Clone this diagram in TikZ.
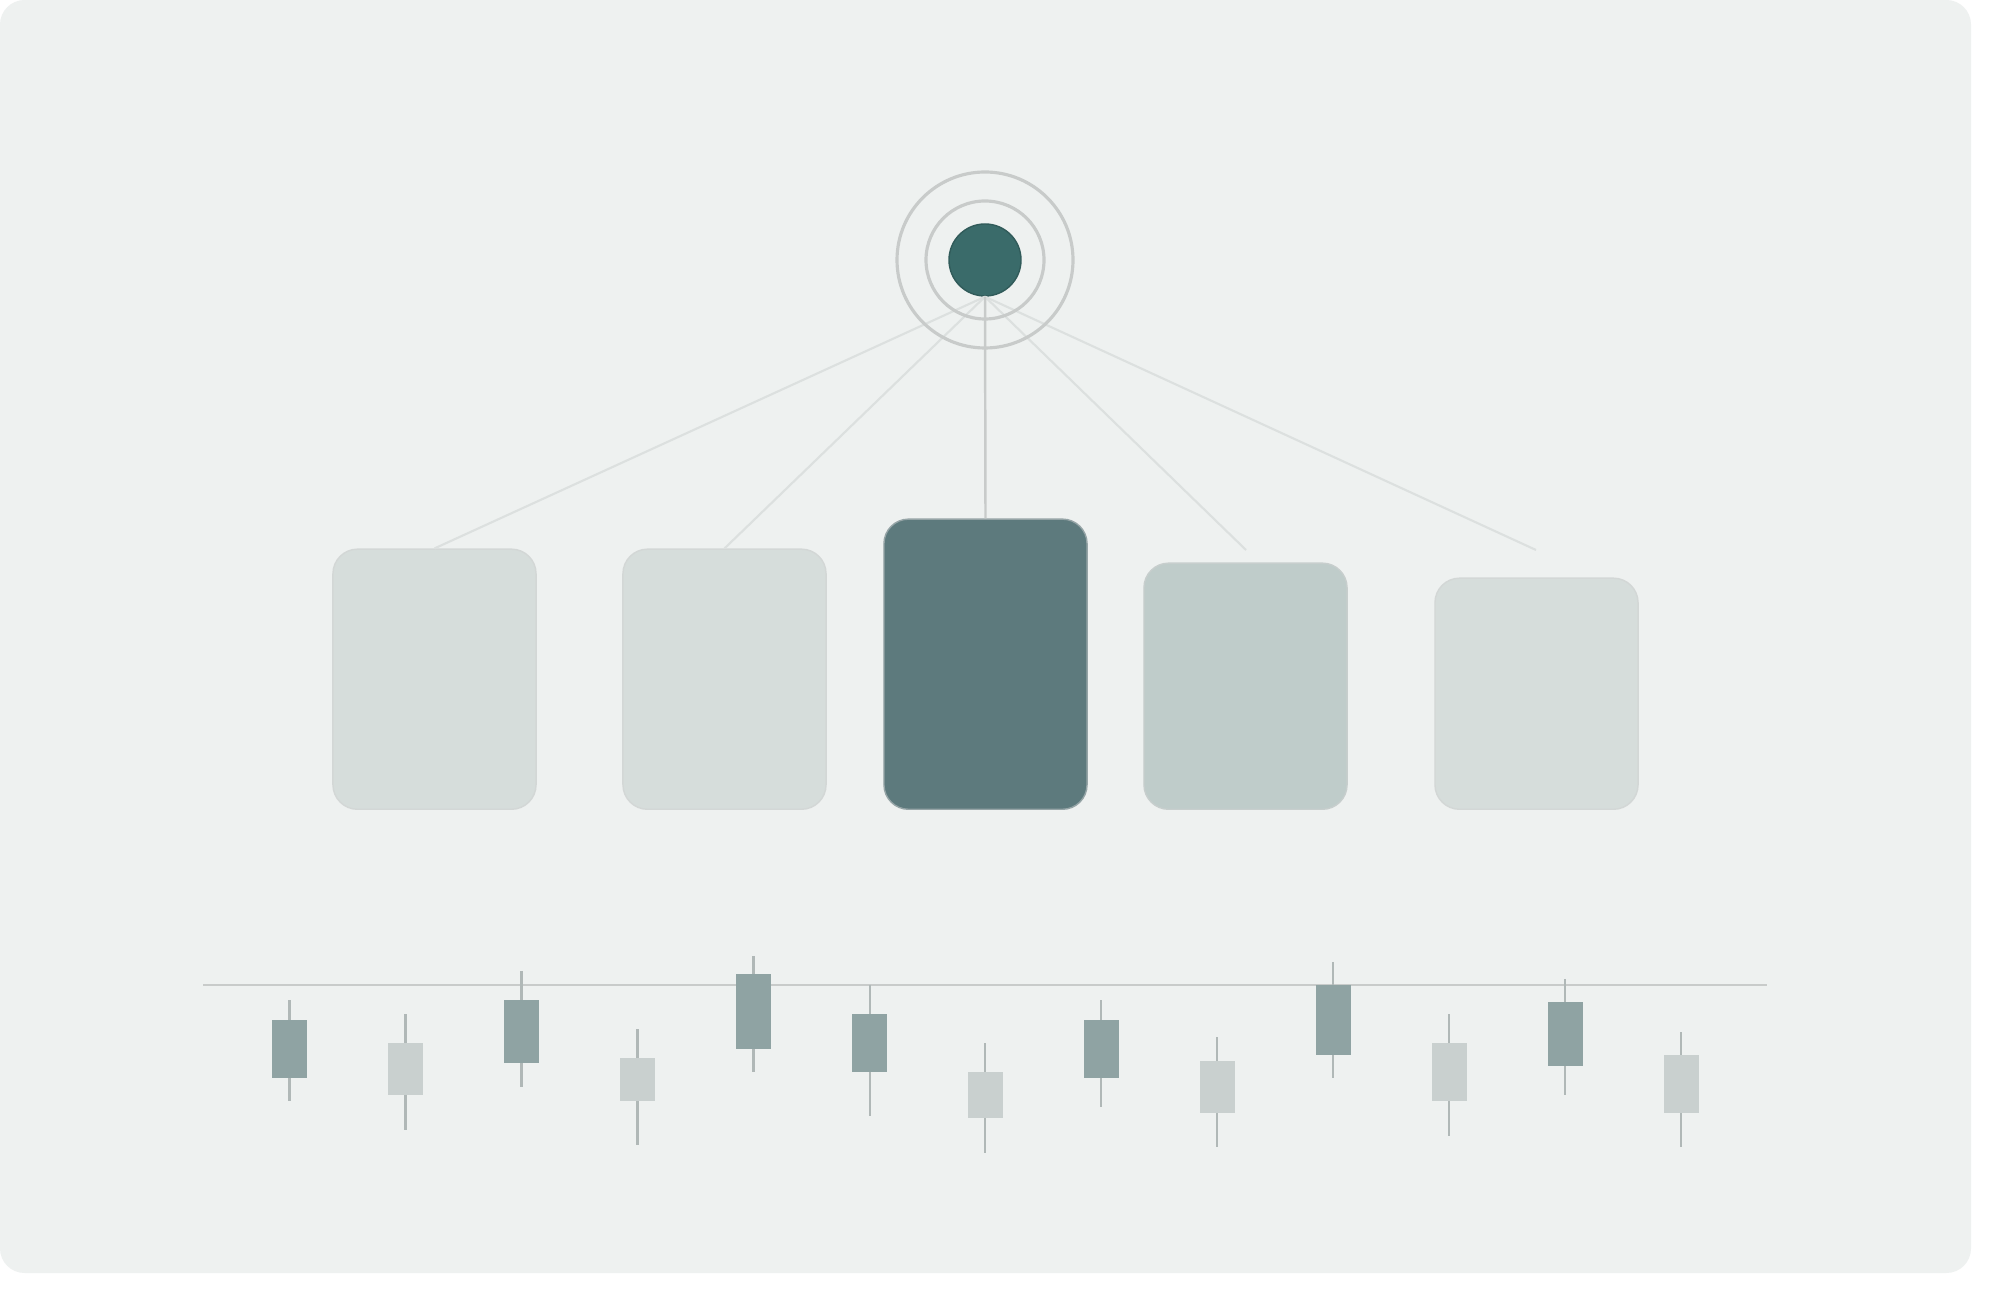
\documentclass[tikz,border=0pt]{standalone}
\usepackage{tikz}
\definecolor{bgcol}{HTML}{EEF1F0}
\definecolor{ringcol}{HTML}{C8CBCA}
\definecolor{linkcol}{HTML}{DCE0DF}
\definecolor{hubcol}{HTML}{3A6B6A}
\definecolor{lightbox}{HTML}{D6DDDB}
\definecolor{midbox}{HTML}{BFCCCA}
\definecolor{darkbox}{HTML}{5D7A7D}
\definecolor{darkcandle}{HTML}{8FA3A3}
\definecolor{lightcandle}{HTML}{C9D0CF}
\definecolor{wickcol}{HTML}{B0B8B7}
\tikzset{
  card/.style={draw=#1!85!black!60, fill=#1, rounded corners=7pt, line width=0.4pt,
    minimum width=2.03cm, anchor=south, inner sep=0pt},
  link/.style={linkcol, line width=0.6pt},
  ring/.style={ringcol, line width=0.9pt}
}
\begin{document}
\begin{tikzpicture}[x=0.01cm,y=-0.01cm]
\useasboundingbox (0,0) rectangle (2000,1304);
\fill[white] (0,0) rectangle (2000,1304);
\fill[bgcol, rounded corners=7pt] (0,0) rectangle (1971,1273);
% cards
\node[card=lightbox, minimum height=2.60cm] (b1) at (434.5,810) {};
\node[card=lightbox, minimum height=2.60cm] (b2) at (724.5,810) {};
\node[card=darkbox, minimum height=2.90cm] (b3) at (985.5,810) {};
\node[card=midbox, minimum height=2.46cm] (b4) at (1245.5,810) {};
\node[card=lightbox, minimum height=2.31cm] (b5) at (1536.5,810) {};
\coordinate (e4) at (1246,550);
\coordinate (e5) at (1536,550);
% hub
\coordinate (hub) at (985,260);
\node[circle, fill=hubcol, draw=hubcol!85!black, minimum size=0.72cm, inner sep=0pt] (dot) at (hub) {};
\draw[link] (dot.south) -- (b1.north);
\draw[link] (dot.south) -- (b2.north);
\draw[link] (dot.south) -- (e4);
\draw[link] (dot.south) -- (e5);
\draw[ringcol, line width=0.7pt] (dot.south) -- (b3.north);
\draw[ring] (hub) circle (88);
\draw[ring] (hub) circle (59);
% candles
\draw[ringcol, line width=0.6pt] (203,985) -- (1767,985);
\foreach \x/\wt/\wb/\bt/\bb/\c in {
  289.5/1000/1101/1020/1078/darkcandle,
  405.6/1014/1130/1043/1095/lightcandle,
  521.7/971/1087/1000/1063/darkcandle,
  637.8/1029/1145/1058/1101/lightcandle,
  753.8/956/1072/974/1049/darkcandle,
  869.9/985/1116/1014/1072/darkcandle,
  985/1043/1153/1072/1118/lightcandle,
  1101/1000/1107/1020/1078/darkcandle,
  1217/1037/1147/1061/1113/lightcandle,
  1333/962/1078/985/1055/darkcandle,
  1449/1014/1136/1043/1101/lightcandle,
  1565/979/1095/1002/1066/darkcandle,
  1681/1032/1147/1055/1113/lightcandle}
{
  \draw[wickcol, line width=0.8pt] (\x,\wt) -- (\x,\wb);
  \fill[\c] (\x-17.5,\bt) rectangle (\x+17.5,\bb);
}
\end{tikzpicture}
\end{document}
